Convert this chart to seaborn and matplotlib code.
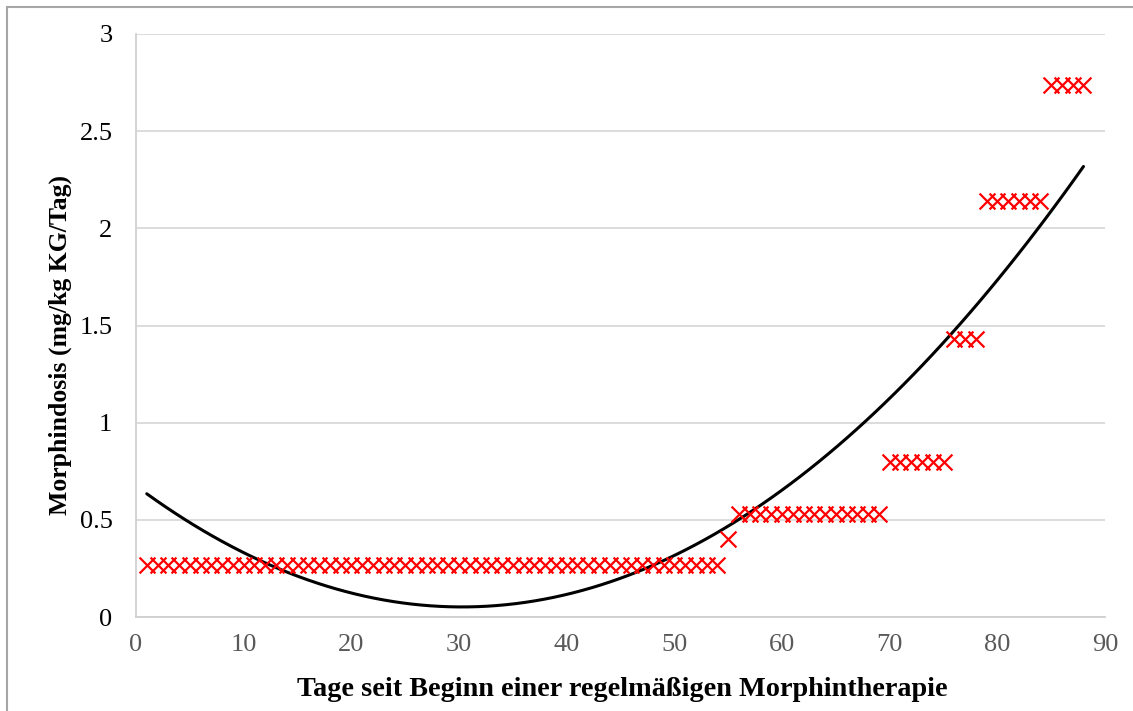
import numpy as np
import pandas as pd
import matplotlib
matplotlib.use("Agg")
import matplotlib.pyplot as plt
from matplotlib.patches import Rectangle
import seaborn as sns

# Data: day -> dose (mg/kg KG/Tag)
days = list(range(1, 89))
dose_levels = [0.27, 0.40, 0.53, 0.80, 1.43, 2.14, 2.74]
level_counts = [54, 1, 14, 6, 3, 6, 4]
doses = []
for lvl, cnt in zip(dose_levels, level_counts):
    doses += [lvl] * cnt

df = pd.DataFrame({"Tag": days, "Dosis": doses})

sns.set_theme(style="white")
plt.rcParams['font.family'] = ['Liberation Serif', 'DejaVu Serif']

fig = plt.figure(figsize=(11.33, 7.11), dpi=100)
ax = fig.add_axes([136/1133, 1-617/711, (1105-136)/1133, (617-34)/711])

# outer chart border (left and top visible)
fig.patches.append(Rectangle((7/1133, -0.1), 1.2, 1 - 7/711 + 0.1, transform=fig.transFigure,
                             fill=False, edgecolor='#a6a6a6', linewidth=1.5, zorder=0))

sns.regplot(data=df, x="Tag", y="Dosis", order=2, ci=None, truncate=True,
            scatter=False, ax=ax, line_kws=dict(color='black', linewidth=2.2))
sns.scatterplot(data=df, x="Tag", y="Dosis", marker='x', color='#ff0000', s=130,
                linewidth=1.6, ax=ax, zorder=3)

ax.set_xlim(0, 90)
ax.set_ylim(0, 3)
ax.set_xticks(range(0, 91, 10))
ax.set_yticks([0, 0.5, 1, 1.5, 2, 2.5, 3])
ax.set_yticklabels(['0', '0.5', '1', '1.5', '2', '2.5', '3'])
ax.grid(axis='y', color='#d9d9d9', linewidth=1.3)
ax.grid(axis='x', visible=False)
ax.set_axisbelow(True)
for s in ['top', 'right']:
    ax.spines[s].set_visible(False)
ax.spines['left'].set_color('#d0d0d0')
ax.spines['bottom'].set_color('#d0d0d0')
ax.spines['left'].set_linewidth(1.3)
ax.spines['bottom'].set_linewidth(1.3)

ax.tick_params(axis='y', labelsize=19, colors='black', length=0, pad=17)
ax.tick_params(axis='x', labelsize=19, labelcolor='#595959', length=0, pad=12)

ax.set_xlabel('Tage seit Beginn einer regelmäßigen Morphintherapie', fontsize=20.3,
              fontweight='bold', color='black')
ax.set_ylabel('Morphindosis (mg/kg KG/Tag)', fontsize=18.5, fontweight='bold',
              color='black')
# label positions (axes coords)
ax.xaxis.set_label_coords((622 - 136) / (1105 - 136), -(690 - 617) / (617 - 34))
ax.yaxis.set_label_coords(-(136 - 60) / (1105 - 136), (617 - 345) / (617 - 34))
ax.xaxis.label.set_va('center')
ax.yaxis.label.set_va('center')

fig.savefig('out.png', dpi=100)
